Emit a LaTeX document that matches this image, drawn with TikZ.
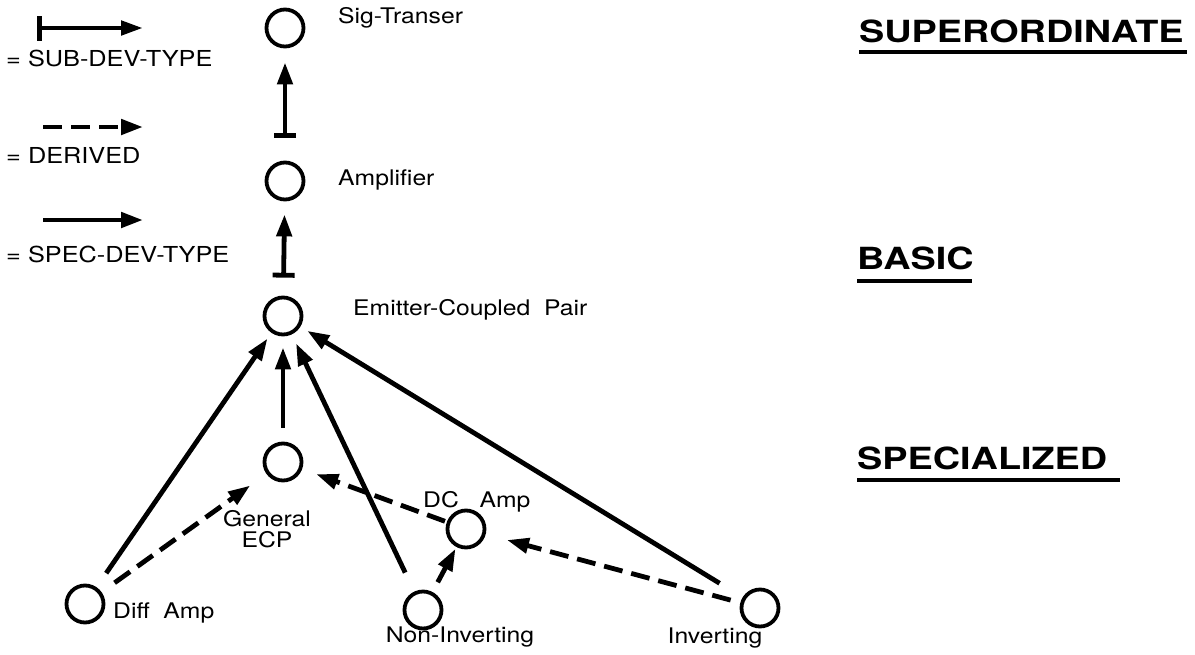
\documentclass[tikz,border=0pt]{standalone}
\usepackage{fontspec}
\setmainfont{TeX Gyre Heros}
\newfontfamily\lblfont[FakeStretch=1.15]{TeX Gyre Heros}
\newfontfamily\hdfont[FakeStretch=1.24]{TeX Gyre Heros}
\usetikzlibrary{arrows.meta}
\begin{document}
\begin{tikzpicture}[x=1pt,y=-1pt,
  dev/.style={circle,draw,line width=3.8pt,minimum size=37pt,inner sep=0pt},
  lbl/.style={font=\lblfont\fontsize{21.5}{22}\selectfont,inner sep=0pt},
  leg/.style={font=\lblfont\fontsize{22}{24}\selectfont,inner sep=0pt,anchor=west},
  hd/.style={font=\hdfont\bfseries\fontsize{30.5}{32}\selectfont,inner sep=0pt,anchor=west},
  tip/.style={-{Triangle[length=22pt,width=15pt]}},
  conn/.style={line width=4.8pt},
  spec/.style={conn,tip},
  subd/.style={conn,{Bar[width=22pt,line width=4.8pt]}-{Triangle[length=22pt,width=15pt]}},
  deriv/.style={conn,dash pattern=on 19pt off 9pt,tip},
  uline/.style={line width=4.5pt}
]
\useasboundingbox (0,0) rectangle (1195,654);

% nodes
\node[dev] (sig) at (285,28) {};
\node[dev] (amp) at (285,181) {};
\node[dev] (ecp) at (283,316) {};
\node[dev] (gen) at (283,462) {};
\node[dev] (diff) at (85,604) {};
\node[dev] (non) at (423,610) {};
\node[dev] (dc) at (466,529) {};
\node[dev] (inv) at (760,608) {};

% labels
\node[lbl,anchor=west] (tsig) at (338,18) {Sig-Transer};
\node[lbl,anchor=west] (tamp) at (338,180) {Amplifier};
\node[lbl,anchor=west] (tecp) at (353,310) {Emitter-Coupled\ \ Pair};
\node[lbl,anchor=base] (tgen1) at (267,526) {General};
\node[lbl,anchor=base] (tgen2) at (267,547) {ECP};
\node[lbl,anchor=west] (tdc) at (423,502) {DC\ \ \ Amp};
\node[lbl,anchor=west] (tdiff) at (113,613) {Diff\ \ Amp};
\node[lbl] (tnon) at (460,637) {Non-Inverting};
\node[lbl] (tinv) at (715,638) {Inverting};

% connectors
\draw[subd,shorten <=23pt,shorten >=14pt] (amp) -- (sig);
\draw[subd,shorten <=18pt,shorten >=13pt] (ecp) -- (amp);
\draw[spec,shorten <=14pt,shorten >=11pt] (gen) -- (ecp);
\draw[spec,shorten <=17pt,shorten >=7pt] (diff) -- (ecp);
\draw[spec,shorten <=21pt,shorten >=10pt] (non) -- (ecp);
\draw[spec,shorten <=27pt,shorten >=8pt] (inv) -- (ecp);
\draw[deriv,shorten <=16pt,shorten >=20pt] (diff) -- (gen);
\draw[deriv,shorten <=2pt,shorten >=15pt] (dc) -- (gen);
\draw[deriv,shorten <=11pt,shorten >=2pt] (non) -- (dc);
\draw[deriv,shorten <=10pt,shorten >=22pt] (inv) -- (dc);

% legend
\coordinate (l1a) at (37,28);  \coordinate (l1b) at (143,28);
\coordinate (l2a) at (43,127); \coordinate (l2b) at (143,127);
\coordinate (l3a) at (43,220); \coordinate (l3b) at (143,220);
\draw[conn,{Bar[width=25pt,line width=4.8pt]}-{Triangle[length=22pt,width=14pt]}] (l1a) -- (l1b);
\draw[deriv] (l2a) -- (l2b);
\draw[spec] (l3a) -- (l3b);
\node[leg] (g1) at (6,58) {= SUB-DEV-TYPE};
\node[leg] (g2) at (6,155) {= DERIVED};
\node[leg] (g3) at (6,254) {= SPEC-DEV-TYPE};

% headings
\node[hd] (h1) at (859,31) {SUPERORDINATE};
\node[hd] (h2) at (857,258) {BASIC};
\node[hd] (h3) at (857,458) {SPECIALIZED};
\draw[uline] (859,52) -- (1187,52);
\draw[uline] (857,281) -- (972,281);
\draw[uline] (857,480) -- (1120,480);
\end{tikzpicture}
\end{document}
